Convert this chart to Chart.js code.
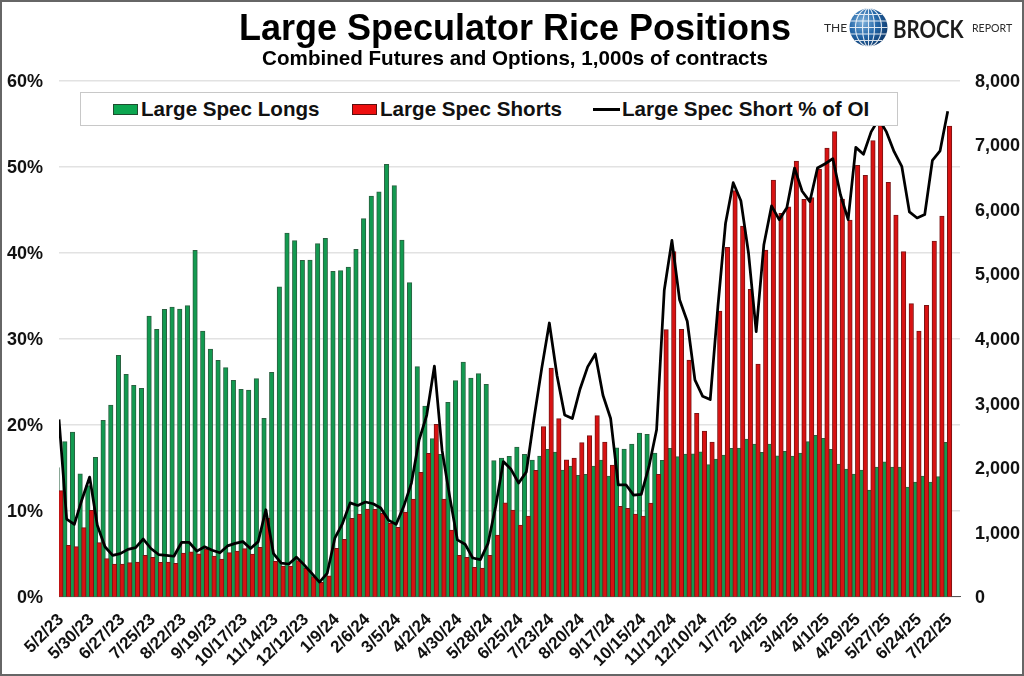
<!DOCTYPE html>
<html>
<head>
<meta charset="utf-8">
<title>Large Speculator Rice Positions</title>
<script src="https://cdn.jsdelivr.net/npm/chart.js@4"></script>
<style>
  html,body{margin:0;padding:0;background:#fff;}
  #wrap{position:relative;width:1024px;height:676px;overflow:hidden;font-family:"Liberation Sans",Arial,sans-serif;}
  #frame{position:absolute;left:0;top:0;width:1024px;height:676px;box-sizing:border-box;border:2px solid #666;pointer-events:none;}
  #legend{position:absolute;left:80px;top:92px;width:818px;height:34px;box-sizing:border-box;background:#fff;border:1.5px solid #c8c8c8;}
  .item{position:absolute;top:0;line-height:32px;font-weight:bold;font-size:20.6px;color:#111;white-space:nowrap;}
  .sw{position:absolute;top:104px;height:11px;width:25px;box-sizing:border-box;}
  .ln{position:absolute;top:108px;height:3px;width:27px;background:#000;}
  #logo span{position:absolute;color:#2b2b2b;font-family:Lato,"Open Sans",sans-serif;white-space:nowrap;}
</style>
</head>
<body>
<div id="wrap">
  <canvas id="chart" width="1024" height="676"></canvas>
  <div id="legend">
    <span class="item" style="left:60px">Large Spec Longs</span>
    <span class="item" style="left:299px">Large Spec Shorts</span>
    <span class="item" style="left:541px">Large Spec Short % of OI</span>
  </div>
  <div class="sw" style="left:113px;background:#0ca650;border:1px solid #1e4d2f"></div>
  <div class="sw" style="left:352px;background:#ee0f0f;border:1px solid #5a1010"></div>
  <div class="ln" style="left:593px"></div>
  <div id="logo">
    <span style="left:824px;top:20px;font-size:12px">THE</span>
    <svg style="position:absolute;left:849px;top:8px" width="39" height="39" viewBox="0 0 39 39">
      <defs><radialGradient id="gb" cx="35%" cy="35%" r="75%"><stop offset="0" stop-color="#7fb2dc"/><stop offset="0.5" stop-color="#2467a8"/><stop offset="1" stop-color="#0d3566"/></radialGradient></defs>
      <circle cx="19.5" cy="19.5" r="19" fill="url(#gb)"/>
      <g fill="none" stroke="#fff" stroke-width="1.1" opacity="0.85">
        <ellipse cx="19.5" cy="19.5" rx="6" ry="19"/><ellipse cx="19.5" cy="19.5" rx="13" ry="19"/>
        <path d="M19.5 .5V38.5M1.5 13H37.5M.5 19.5H38.5M1.5 26H37.5M6 6.5H33M6 32.5H33"/>
      </g>
    </svg>
    <span style="left:893px;top:13px;font-size:25px;color:#1c1c1c;font-weight:bold;transform:scaleX(.82);transform-origin:left center">BROCK</span>
    <span style="left:972px;top:20px;font-size:12px;transform:scaleX(.88);transform-origin:left center">REPORT</span>
  </div>
  <div id="frame"></div>
</div>
<script>
const tickLabels = ['5/2/23','5/30/23','6/27/23','7/25/23','8/22/23','9/19/23','10/17/23','11/14/23','12/12/23','1/9/24','2/6/24','3/5/24','4/2/24','4/30/24','5/28/24','6/25/24','7/23/24','8/20/24','9/17/24','10/15/24','11/12/24','12/10/24','1/7/25','2/4/25','3/4/25','4/1/25','4/29/25','5/27/25','6/24/25','7/22/25'];

// weekly, contracts (right axis)
const longs = [2000,2401,2551,1905,1720,2158,2732,2969,3739,3444,3274,3227,4348,4142,4452,4488,4457,4508,5366,4116,3837,3661,3548,3351,3212,3202,3377,2763,3475,4802,5634,5515,5211,5216,5469,5552,5041,5050,5107,5381,5857,6207,6270,6698,6367,5526,4864,3563,2954,2448,2205,3011,3346,3635,3388,3455,3289,2107,2148,2174,2319,2205,2117,2179,2283,2241,1962,2024,1880,1895,2024,2117,1869,2308,2288,2365,2536,2515,2226,2112,2298,2169,2210,2215,2246,2045,2133,2195,2298,2303,2443,2365,2236,2365,2184,2251,2179,2226,2401,2499,2453,2283,2055,1978,1900,1962,1652,2009,2091,2009,2009,1699,1776,1869,1776,1859,2391];
const shorts = [1642,795,775,1069,1337,837,589,506,506,527,537,640,609,532,537,516,676,697,666,738,630,584,682,707,744,661,764,1213,547,475,475,558,439,310,222,325,749,888,1214,1281,1358,1353,1291,1136,1074,1312,1513,1926,2221,2670,1513,1033,640,609,454,444,640,955,1456,1343,1110,1250,1957,2634,3543,2758,2122,2148,2386,2494,2804,2396,2040,1399,1368,1281,1250,1451,1895,4136,5345,4141,3666,2840,2566,2396,4425,5412,6290,5742,4761,3604,5371,6455,5939,6040,6749,6155,6181,6625,6950,7204,6160,5835,6682,6527,7064,7330,6419,5913,5345,4539,4116,4513,5510,5897,7292];
// percent of open interest (left axis)
const shortPct = [20.6,9.0,8.4,11.3,13.9,8.3,5.8,4.8,5.0,5.5,5.7,6.7,5.6,4.9,4.8,4.7,6.3,6.3,5.3,5.8,5.4,5.1,5.9,6.2,6.4,5.6,6.4,10.1,5.0,3.9,3.8,4.6,3.7,2.7,1.7,2.7,6.8,8.5,10.9,10.6,11.0,10.8,10.3,8.9,8.4,10.5,13.2,18.2,21.1,26.8,17.0,11.6,6.6,6.1,4.5,4.3,6.2,10.5,15.7,14.8,13.2,14.5,20.7,26.5,31.8,25.7,21.1,20.7,24.1,26.7,28.2,23.4,20.7,13.0,13.0,11.8,11.9,15.1,19.4,35.6,41.4,34.5,32.0,25.2,23.3,22.9,33.7,43.4,48.1,46.0,39.9,30.8,40.9,45.4,43.8,45.2,49.8,47.1,45.9,49.8,50.3,50.9,46.7,43.8,52.2,51.4,54.0,55.5,54.0,51.7,50.0,44.7,44.0,44.4,50.7,51.8,56.4];

const tickStep = 4; // one label every four weeks
const barShift = 0.24; // longs sit left of the week, shorts right, shorts painted on top
const asPoints = (arr, shift = 0) => arr.map((y, i) => ({x: i + shift, y}));
const boldFont = size => ({family:'"Liberation Sans", Arial, sans-serif', size, weight:'bold'});

new Chart(document.getElementById('chart'), {
  type:'bar',
  data:{
    datasets:[
      { label:'Large Spec Longs', data:asPoints(longs, -barShift), yAxisID:'yR', order:2,
        backgroundColor:'#129a50', borderColor:'#2a6040', borderWidth:1 },
      { label:'Large Spec Shorts', data:asPoints(shorts, barShift), yAxisID:'yR', order:1,
        backgroundColor:'#d81212', borderColor:'#7a1414', borderWidth:1 },
      { type:'line', label:'Large Spec Short % of OI', data:asPoints(shortPct), yAxisID:'yL', order:0,
        borderColor:'#000', borderWidth:2.75, borderJoinStyle:'round', pointRadius:0, tension:0 }
    ]
  },
  options:{
    responsive:false,
    animation:false,
    grouped:false,
    barThickness:4.5,
    layout:{ padding:{left:6} },
    plugins:{
      legend:{ display:false },
      tooltip:{ enabled:false },
      title:{ display:true, text:'Large Speculator Rice Positions', color:'#000',
        font:{...boldFont(36), lineHeight:1}, padding:{top:12, bottom:0} },
      subtitle:{ display:true, text:'Combined Futures and Options, 1,000s of contracts', color:'#000',
        font:{...boldFont(20.6), lineHeight:1.1}, padding:{top:0, bottom:9.6} }
    },
    scales:{
      x:{
        type:'linear', min:0, max:117.6, offset:false,
        grid:{ display:false, drawTicks:false },
        border:{ color:'#555', width:1 },
        afterFit:s=>{ s.height = 79.3; s.paddingLeft = 0; s.paddingRight = 0; },
        ticks:{
          stepSize:tickStep, includeBounds:false, autoSkip:false, maxRotation:45, minRotation:45, padding:13, labelOffset:2,
          color:'#111', font:boldFont(17),
          callback:v=>tickLabels[v/tickStep]
        }
      },
      yL:{
        position:'left', min:0, max:60,
        grid:{ color:'#e2e2e2', lineWidth:1.5, drawTicks:false },
        border:{ display:false },
        afterFit:s=>{ s.width = 53; },
        ticks:{ stepSize:10, padding:16, labelOffset:1.5, color:'#111', font:boldFont(18), callback:v=>v+'%' }
      },
      yR:{
        position:'right', min:0, max:8000,
        grid:{ display:false, drawTicks:false },
        border:{ display:false },
        afterFit:s=>{ s.width = 64; },
        ticks:{ stepSize:1000, padding:15, labelOffset:1.5, color:'#111', font:boldFont(18), callback:v=>v.toLocaleString('en-US') }
      }
    }
  }
});
</script>
</body>
</html>
